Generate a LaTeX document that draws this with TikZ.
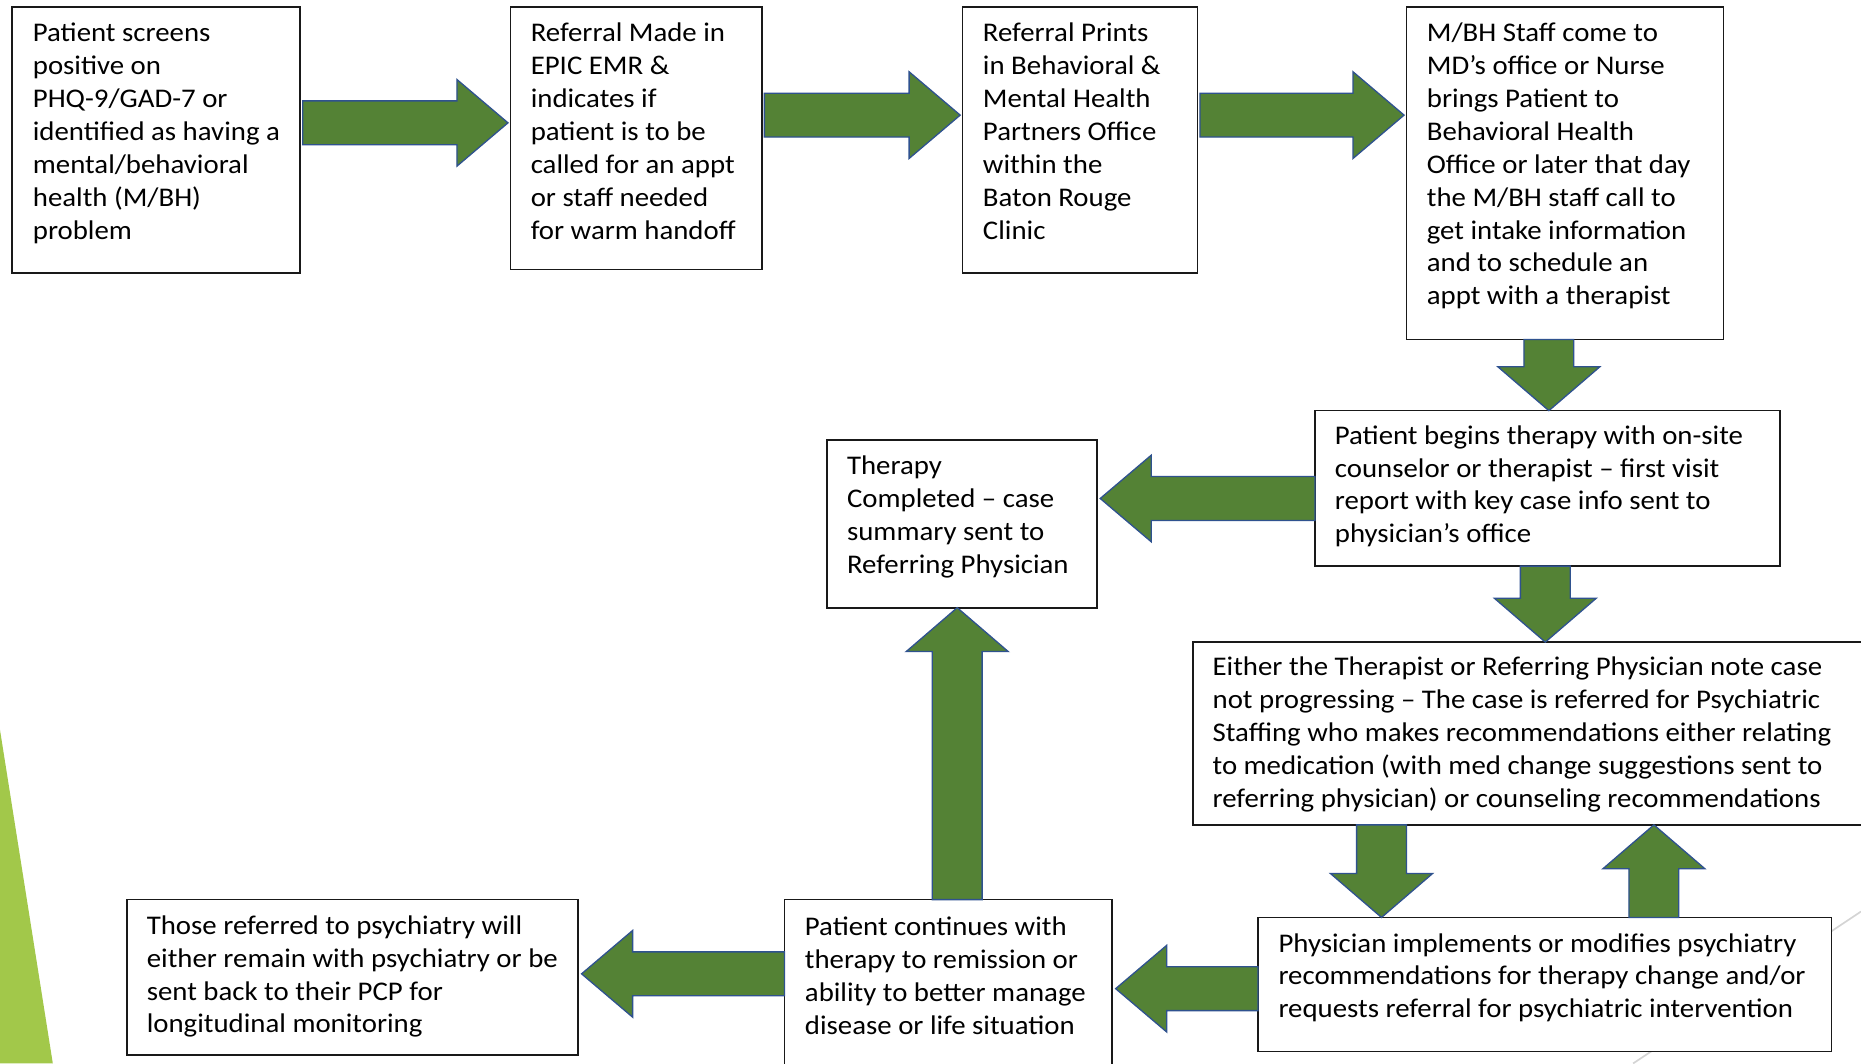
\documentclass[tikz,border=0pt]{standalone}
\usepackage{fontspec}
\setmainfont{Carlito}[FakeStretch=1.07]
\usetikzlibrary{calc}
\definecolor{arrgreen}{HTML}{548235}
\definecolor{arrblue}{HTML}{2F528F}
\definecolor{litegreen}{HTML}{A2C84A}
\definecolor{decogray}{HTML}{D4D4D4}
\newcommand\firststrut{\rule{0pt}{19pt}}
\newcommand\hs{18.5}\newcommand\hh{36.5}\newcommand\hl{43}
\newcommand\vs{21}\newcommand\vh{43}\newcommand\vl{37}
\newcommand\rarr[3]{\coordinate (S) at (#1 |- 0,#3); \coordinate (T) at (#2 |- 0,#3);
 \filldraw[blockarrow] ($(S)+(2,-\hs)$) -- ($(T)+(-\hl-2,-\hs)$) -- ($(T)+(-\hl-2,-\hh)$) -- ($(T)+(-2,0)$) -- ($(T)+(-\hl-2,\hh)$) -- ($(T)+(-\hl-2,\hs)$) -- ($(S)+(2,\hs)$) -- cycle;}
\newcommand\larr[3]{\coordinate (S) at (#1 |- 0,#3); \coordinate (T) at (#2 |- 0,#3);
 \filldraw[blockarrow] ($(S)+(0,-\hs)$) -- ($(T)+(\hl+3,-\hs)$) -- ($(T)+(\hl+3,-\hh)$) -- ($(T)+(3,0)$) -- ($(T)+(\hl+3,\hh)$) -- ($(T)+(\hl+3,\hs)$) -- ($(S)+(0,\hs)$) -- cycle;}
\newcommand\darr[3]{\coordinate (S) at (#1 -| #3,0); \coordinate (T) at (#2 -| #3,0);
 \filldraw[blockarrow] ($(S)+(-\vs,0)$) -- ($(T)+(-\vs,-\vl)$) -- ($(T)+(-\vh,-\vl)$) -- (T) -- ($(T)+(\vh,-\vl)$) -- ($(T)+(\vs,-\vl)$) -- ($(S)+(\vs,0)$) -- cycle;}
\newcommand\uarr[3]{\coordinate (S) at (#1 -| #3,0); \coordinate (T) at (#2 -| #3,0);
 \filldraw[blockarrow] ($(S)+(-\vs,0)$) -- ($(T)+(-\vs,\vl)$) -- ($(T)+(-\vh,\vl)$) -- (T) -- ($(T)+(\vh,\vl)$) -- ($(T)+(\vs,\vl)$) -- ($(S)+(\vs,0)$) -- cycle;}
\tikzset{
  box/.style={draw=black!90, line width=1.4pt, fill=white, anchor=north west, inner sep=0pt, outer sep=0pt},
  txt/.style={anchor=north west, inner sep=0pt, align=left, font=\fontsize{22.7}{27.7}\selectfont},
  blockarrow/.style={fill=arrgreen, draw=arrblue, line width=1.1pt, line join=miter},
}
\begin{document}
\begin{tikzpicture}[x=1pt,y=-1pt]
\useasboundingbox (0,0) rectangle (1568,896);
\clip (0,0) rectangle (1568,896);
\fill[white] (0,0) rectangle (1568,896);
\fill[litegreen] (0,615) -- (44.5,896) -- (0,896) -- cycle;
\draw[decogray, line width=1.4pt] (1568,768) -- (1376,896);
% boxes
\node[box, minimum width=243pt, minimum height=224pt] (b1) at (10,6) {};
\node[box, minimum width=212pt, minimum height=221pt] (b2) at (430,6) {};
\node[box, minimum width=198pt, minimum height=224pt] (b3) at (811,6) {};
\node[box, minimum width=267pt, minimum height=280pt] (b4) at (1185,6) {};
\node[box, minimum width=392pt, minimum height=131pt] (b5) at (1108,346) {};
\node[box, minimum width=227pt, minimum height=141pt] (b6) at (697,371) {};
\node[box, minimum width=580pt, minimum height=154pt] (b7) at (1005,541) {};
\node[box, minimum width=483pt, minimum height=113pt] (b8) at (1060,773) {};
\node[box, minimum width=276pt, minimum height=150pt] (b9) at (661,758) {};
\node[box, minimum width=380pt, minimum height=131pt] (b10) at (107,758) {};
% texts
\node[txt] (t1) at ($(b1.north west)+(17.5,10)$) {\firststrut Patient screens\\positive on\\PHQ-9/GAD-7 or\\identified as having a\\mental/behavioral\\health (M/BH)\\problem};
\node[txt] (t2) at ($(b2.north west)+(17,10)$) {\firststrut Referral Made in\\EPIC EMR \&\\indicates if\\patient is to be\\called for an appt\\or staff needed\\for warm handoff};
\node[txt] (t3) at ($(b3.north west)+(17,10)$) {\firststrut Referral Prints\\in Behavioral \&\\Mental Health\\Partners Office\\within the\\Baton Rouge\\Clinic};
\node[txt] (t4) at ($(b4.north west)+(17,10)$) {\firststrut M/BH Staff come to\\MD’s office or Nurse\\brings Patient to\\Behavioral Health\\Office or later that day\\the M/BH staff call to\\get intake information\\and to schedule an\\appt with a therapist};
\node[txt] (t5) at ($(b5.north west)+(16.5,9)$) {\firststrut Patient begins therapy with on-site\\counselor or therapist – first visit\\report with key case info sent to\\physician’s office};
\node[txt] (t6) at ($(b6.north west)+(16.5,10)$) {\firststrut Therapy\\Completed – case\\summary sent to\\Referring Physician};
\node[txt] (t7) at ($(b7.north west)+(16.5,9)$) {\firststrut Either the Therapist or Referring Physician note case\\not progressing – The case is referred for Psychiatric\\Staffing who makes recommendations either relating\\to medication (with med change suggestions sent to\\referring physician) or counseling recommendations};
\node[txt] (t8) at ($(b8.north west)+(17,10)$) {\firststrut Physician implements or modifies psychiatry\\recommendations for therapy change and/or\\requests referral for psychiatric intervention};
\node[txt] (t9) at ($(b9.north west)+(17,11)$) {\firststrut Patient continues with\\therapy to remission or\\ability to better manage\\disease or life situation};
\node[txt] (t10) at ($(b10.north west)+(16.5,10)$) {\firststrut Those referred to psychiatry will\\either remain with psychiatry or be\\sent back to their PCP for\\longitudinal monitoring};
% block arrows
\rarr{b1.east}{b2.west}{103.5}
\rarr{b2.east}{b3.west}{97}
\rarr{b3.east}{b4.west}{97}
\darr{b4.south}{b5.north}{1305}
\larr{b5.west}{b6.east}{420}
\darr{b5.south}{b7.north}{1302}
\darr{b7.south}{b8.north}{1164}
\uarr{b8.north}{b7.south}{1393.5}
\larr{b8.west}{b9.east}{833}
\uarr{b9.north}{b6.south}{806.5}
\larr{b9.west}{b10.east}{820.5}
\end{tikzpicture}
\end{document}
